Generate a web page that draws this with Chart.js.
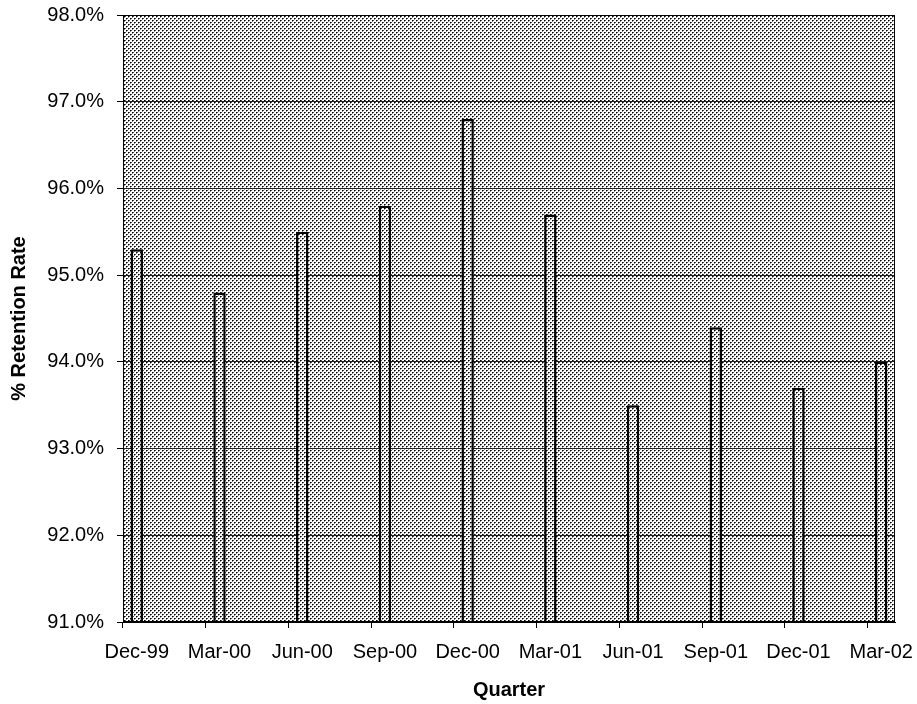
<!DOCTYPE html>
<html>
<head>
<meta charset="utf-8">
<script src="https://cdn.jsdelivr.net/npm/chart.js@4"></script>
<style>
html,body{margin:0;padding:0;background:#fff;}
#wrap{width:917px;height:704px;position:relative;}
</style>
</head>
<body>
<div id="wrap"><canvas id="c"></canvas></div>
<script>
// Data
const quarters = ['Dec-99','Mar-00','Jun-00','Sep-00','Dec-00','Mar-01','Jun-01','Sep-01','Dec-01','Mar-02'];
const retention = [95.3, 94.8, 95.5, 95.8, 96.8, 95.7, 93.5, 94.4, 93.7, 94.0];
const yTicks = [91, 92, 93, 94, 95, 96, 97, 98];
const monthsPerQuarter = 3;
const trailingMonths = 1;

// Month slots (date axis with monthly base unit), quarters labelled
const slotLabels = [];
const slotValues = [];
quarters.forEach((q, i) => {
  const last = i === quarters.length - 1;
  const n = last ? trailingMonths : monthsPerQuarter;
  for (let k = 0; k < n; k++) {
    slotLabels.push(k === 0 ? q : '');
    slotValues.push(k === 0 ? retention[i] : null);
  }
});

// Dither pattern like the original grey fill
const pc = document.createElement('canvas');
pc.width = 4; pc.height = 4;
const px = pc.getContext('2d');
px.fillStyle = '#fff'; px.fillRect(0,0,4,4);
px.fillStyle = '#000'; px.fillRect(0,0,1,1); px.fillRect(2,2,1,1);
px.fillStyle = '#555'; px.fillRect(1,0,1,1); px.fillRect(3,2,1,1);
px.fillStyle = '#888'; px.fillRect(0,1,1,1); px.fillRect(2,3,1,1);
const pattern = document.getElementById('c').getContext('2d').createPattern(pc, 'repeat');

const FONT = "'Liberation Sans', Arial, sans-serif";

const bgPlugin = {
  id: 'plotBg',
  beforeDraw(chart) {
    const {ctx, chartArea: a} = chart;
    ctx.save();
    ctx.fillStyle = pattern;
    ctx.fillRect(a.left, a.top, a.right - a.left, a.bottom - a.top);
    ctx.restore();
  },
  afterDraw(chart) {
    const {ctx, chartArea: a} = chart;
    ctx.save();
    ctx.strokeStyle = '#000';
    ctx.lineWidth = 1;
    ctx.strokeRect(a.left + 0.5, a.top + 0.5, a.right - a.left - 1, a.bottom - a.top - 1);
    ctx.restore();
  }
};

new Chart(document.getElementById('c'), {
  type: 'bar',
  data: {
    labels: slotLabels,
    datasets: [{
      data: slotValues,
      backgroundColor: pattern,
      borderColor: '#000',
      borderWidth: 2.5,
      borderSkipped: 'bottom',
      categoryPercentage: 1,
      barPercentage: 0.45
    }]
  },
  options: {
    responsive: true,
    maintainAspectRatio: false,
    animation: false,
    layout: { padding: { top: 15, right: 22, left: 0, bottom: 0 } },
    plugins: { legend: { display: false }, tooltip: { enabled: false } },
    scales: {
      x: {
        offset: true,
        grid: {
          offset: true,
          drawOnChartArea: false,
          drawTicks: true,
          tickLength: 6,
          color: (ctx) => (ctx.index % monthsPerQuarter === 0 ? '#000' : 'rgba(0,0,0,0)')
        },
        border: { display: true, color: '#000', width: 1 },
        ticks: {
          autoSkip: false,
          maxRotation: 0,
          minRotation: 0,
          padding: 12,
          color: '#000',
          font: { family: FONT, size: 20 }
        },
        title: {
          display: true,
          text: 'Quarter',
          color: '#000',
          font: { family: FONT, size: 20, weight: 'bold' },
          padding: { top: 0, bottom: 2 }
        },
        afterFit(scale) {
          scale.height = 82;
          scale.paddingLeft = 0;
          scale.paddingRight = 0;
        }
      },
      y: {
        min: yTicks[0],
        max: yTicks[yTicks.length - 1],
        afterBuildTicks(scale) { scale.ticks = yTicks.map(v => ({ value: v })); },
        grid: {
          color: '#222',
          lineWidth: 1,
          drawTicks: true,
          tickLength: 6,
          tickColor: '#000'
        },
        border: { display: true, color: '#000', width: 1 },
        ticks: {
          padding: 13,
          color: '#000',
          font: { family: FONT, size: 20 },
          callback: (v) => Number(v).toFixed(1) + '%'
        },
        title: {
          display: true,
          text: '% Retention Rate',
          color: '#000',
          font: { family: FONT, size: 20, weight: 'bold' },
          padding: { top: 7, bottom: 0 }
        },
        afterFit(scale) {
          scale.width = 123;
          scale.paddingTop = 0;
          scale.paddingBottom = 0;
        }
      }
    }
  },
  plugins: [bgPlugin]
});
</script>
</body>
</html>
